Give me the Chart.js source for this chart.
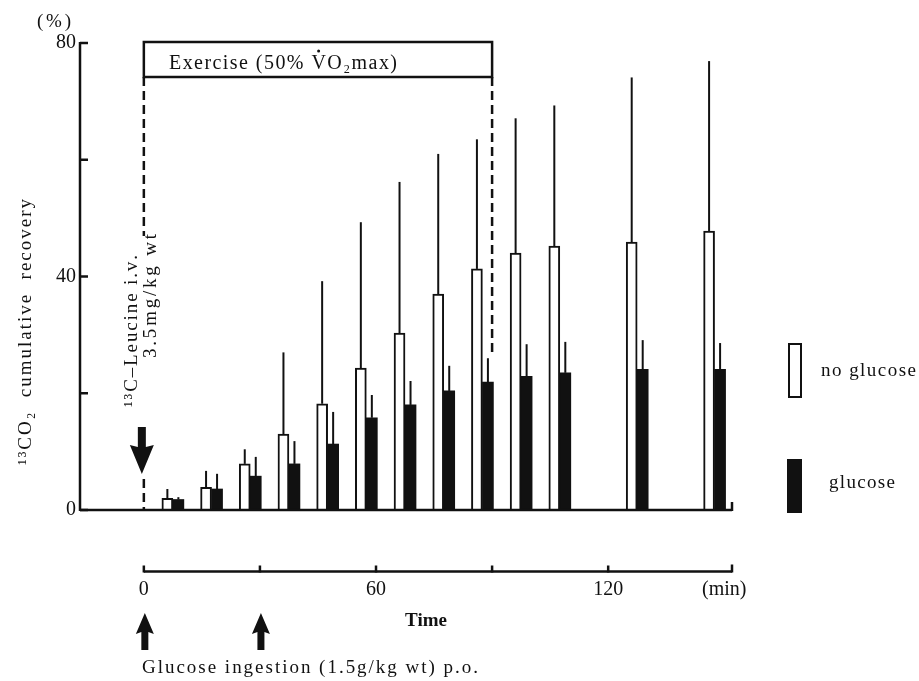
<!DOCTYPE html>
<html>
<head>
<meta charset="utf-8">
<script src="https://cdn.jsdelivr.net/npm/chart.js@4.4.1/dist/chart.umd.min.js"></script>
<style>
  html, body { margin: 0; padding: 0; background: #fff; }
</style>
</head>
<body>
<canvas id="chart" width="919" height="681"></canvas>
<script>
// ── Data ──────────────────────────────────────────────────────
const times          = [7.5, 17.5, 27.5, 37.5, 47.5, 57.5, 67.5, 77.5, 87.5, 97.5, 107.5, 127.5, 147.5];
const noGlucoseMean  = [2.0, 3.9, 7.9, 13.0, 18.2, 24.3, 30.3, 37.0, 41.3, 44.0, 45.2, 45.9, 47.8];
const noGlucoseSD    = [1.6, 2.8, 2.5, 14.0, 21.0, 25.0, 25.9, 24.0, 22.2, 23.1, 24.1, 28.2, 29.1];
const glucoseMean    = [1.8, 3.6, 5.8, 7.9, 11.3, 15.8, 18.0, 20.4, 21.9, 22.9, 23.5, 24.1, 24.1];
const glucoseSD      = [0.4, 2.6, 3.3, 3.9, 5.5, 3.9, 4.1, 4.3, 4.1, 5.5, 5.3, 5.0, 4.5];

const timeTicks   = [0, 30, 60, 90, 120];
const timeLabels  = ['0', '', '60', '', '120'];
const unitTick    = 150;
const unitLabel   = '(min)';
const yTicks      = [0, 20, 40, 60, 80];
const yLabels     = ['0', '', '40', '', '80'];

const exerciseStart = 0, exerciseEnd = 90;
const glucoseDoses  = [0, 30];

const INK  = '#111';
const FONT = "'Liberation Serif', 'DejaVu Serif', serif";

// draws text char by char, stretched to a given width
function spaced(ctx, text, x, y, width) {
  const chars = [...text];
  const w = chars.reduce((s, c) => s + ctx.measureText(c).width, 0);
  const sp = chars.length > 1 ? (width - w) / (chars.length - 1) : 0;
  const pos = [];
  chars.forEach(c => {
    pos.push(x);
    ctx.fillText(c, x, y);
    x += ctx.measureText(c).width + sp;
  });
  return pos;
}

function line(ctx, x1, y1, x2, y2) {
  ctx.beginPath();
  ctx.moveTo(x1, y1);
  ctx.lineTo(x2, y2);
  ctx.stroke();
}

function upArrow(ctx, cx, top, bottom) {
  ctx.beginPath();
  ctx.moveTo(cx, top);
  ctx.lineTo(cx + 9, top + 21);
  ctx.lineTo(cx + 3.5, top + 19);
  ctx.lineTo(cx + 3.5, bottom);
  ctx.lineTo(cx - 3.5, bottom);
  ctx.lineTo(cx - 3.5, top + 19);
  ctx.lineTo(cx - 9, top + 21);
  ctx.closePath();
  ctx.fill();
}

function downArrow(ctx, cx, top, tip) {
  ctx.beginPath();
  ctx.moveTo(cx - 4, top);
  ctx.lineTo(cx + 4, top);
  ctx.lineTo(cx + 4, tip - 27);
  ctx.lineTo(cx + 12, tip - 29);
  ctx.lineTo(cx, tip);
  ctx.lineTo(cx - 12, tip - 29);
  ctx.lineTo(cx - 4, tip - 27);
  ctx.closePath();
  ctx.fill();
}

// ── Error bars, axes and annotations ─────────────────────────
const figureMarks = {
  id: 'figureMarks',
  afterDatasetsDraw(chart) {
    const { ctx, scales: { y } } = chart;
    ctx.save();
    ctx.strokeStyle = INK;
    ctx.lineWidth = 2;
    chart.data.datasets.forEach((ds, d) => {
      chart.getDatasetMeta(d).data.forEach((bar, i) => {
        const top = y.getPixelForValue(ds.data[i].y + ds.sd[i]);
        line(ctx, bar.x, bar.y, bar.x, top);
      });
    });
    ctx.restore();
  },
  afterDraw(chart) {
    const { ctx, chartArea: a, scales: { x, y } } = chart;
    const y0 = y.getPixelForValue(0);
    ctx.save();
    ctx.strokeStyle = INK;
    ctx.fillStyle = INK;
    ctx.lineWidth = 2.5;

    // value axis + baseline
    line(ctx, a.left, y0 + 1, a.left, y.getPixelForValue(80) - 1);
    yTicks.forEach(v => line(ctx, a.left, y.getPixelForValue(v), a.left + 8, y.getPixelForValue(v)));
    line(ctx, a.left, y0, a.right, y0);
    line(ctx, a.right, y0 + 1, a.right, y0 - 8);

    // separate time axis
    const ty = y0 + 61.5;
    line(ctx, x.getPixelForValue(0), ty, a.right, ty);
    timeTicks.forEach(v => line(ctx, x.getPixelForValue(v), ty + 1, x.getPixelForValue(v), ty - 6));
    line(ctx, a.right, ty + 1, a.right, ty - 7);

    // exercise box
    const bx0 = x.getPixelForValue(exerciseStart), bx1 = x.getPixelForValue(exerciseEnd);
    ctx.strokeRect(bx0, 42, bx1 - bx0, 35);
    ctx.setLineDash([9, 5]);
    line(ctx, bx0, 77, bx0, 236);
    line(ctx, bx0, 479, bx0, y0);
    line(ctx, bx1, 77, bx1, 355);
    ctx.setLineDash([]);

    ctx.textBaseline = 'alphabetic';
    ctx.textAlign = 'left';
    ctx.font = `20px ${FONT}`;
    const exText = 'Exercise (50% VO₂max)';
    const pos = spaced(ctx, exText, 169, 69, 228);
    const vIdx = [...exText].indexOf('V');
    const vx = pos[vIdx] + ctx.measureText('V').width / 2;
    ctx.beginPath();
    ctx.arc(vx, 51, 1.5, 0, Math.PI * 2);
    ctx.fill();

    // leucine infusion
    downArrow(ctx, x.getPixelForValue(0) - 2, 427, 474);
    ctx.font = `19px ${FONT}`;
    ctx.save();
    ctx.translate(132, 407);
    ctx.rotate(-Math.PI / 2);
    ctx.textBaseline = 'middle';
    spaced(ctx, '¹³C–Leucine i.v.', 0, 0, 152);
    ctx.restore();
    ctx.save();
    ctx.translate(151, 358);
    ctx.rotate(-Math.PI / 2);
    ctx.textBaseline = 'middle';
    spaced(ctx, '3.5mg/kg wt', 0, 0, 124);
    ctx.restore();

    // glucose ingestion
    glucoseDoses.forEach(t => upArrow(ctx, x.getPixelForValue(t) + 1, 613, 650));
    ctx.font = `19px ${FONT}`;
    ctx.textBaseline = 'middle';
    spaced(ctx, 'Glucose ingestion (1.5g/kg wt) p.o.', 142, 668, 336);
    ctx.font = `bold 19px ${FONT}`;
    spaced(ctx, 'Time', 405, 621, 42);

    // y title and unit
    ctx.font = `19px ${FONT}`;
    spaced(ctx, '(%)', 37, 22, 34);
    ctx.save();
    ctx.translate(26, 465);
    ctx.rotate(-Math.PI / 2);
    ctx.textBaseline = 'middle';
    spaced(ctx, '¹³CO₂  cumulative  recovery', 0, 0, 266);
    ctx.restore();

    // legend
    ctx.lineWidth = 2;
    ctx.strokeRect(789, 344, 12, 53);
    ctx.fillRect(787, 459, 15, 54);
    ctx.font = `19px ${FONT}`;
    ctx.textBaseline = 'middle';
    spaced(ctx, chart.data.datasets[0].label, 821, 371, 95);
    spaced(ctx, chart.data.datasets[1].label, 829, 483, 66);

    ctx.restore();
  }
};

new Chart(document.getElementById('chart'), {
  type: 'bar',
  data: {
    datasets: [
      {
        label: 'no glucose',
        data: times.map((t, i) => ({ x: t, y: noGlucoseMean[i] })),
        sd: noGlucoseSD,
        backgroundColor: '#fff',
        borderColor: INK,
        borderWidth: 2,
        barThickness: 11,
      },
      {
        label: 'glucose',
        data: times.map((t, i) => ({ x: t, y: glucoseMean[i] })),
        sd: glucoseSD,
        backgroundColor: INK,
        borderWidth: 0,
        barThickness: 11,
      },
    ],
  },
  options: {
    responsive: false,
    devicePixelRatio: 1,
    animation: false,
    layout: { padding: { top: 43, right: 187, bottom: 0, left: 0 } },
    plugins: { legend: { display: false }, tooltip: { enabled: false } },
    scales: {
      x: {
        type: 'linear',
        offset: false,
        min: -16.5,
        max: 152,
        grid: { display: false, drawTicks: false },
        border: { display: false },
        afterBuildTicks: s => { s.ticks = [...timeTicks, unitTick].map(v => ({ value: v })); },
        afterFit: s => { s.height = 171; },
        ticks: {
          autoSkip: false,
          maxRotation: 0,
          padding: 68,
          color: INK,
          font: { family: FONT, size: 20 },
          callback: v => v === unitTick ? unitLabel : timeLabels[timeTicks.indexOf(v)],
        },
      },
      y: {
        min: 0,
        max: 80,
        grid: { display: false, drawTicks: false },
        border: { display: false },
        afterBuildTicks: s => { s.ticks = yTicks.map(v => ({ value: v })); },
        afterFit: s => { s.width = 80; },
        ticks: {
          padding: 4,
          color: INK,
          font: { family: FONT, size: 20 },
          callback: v => yLabels[yTicks.indexOf(v)],
        },
      },
    },
  },
  plugins: [figureMarks],
});
</script>
</body>
</html>
